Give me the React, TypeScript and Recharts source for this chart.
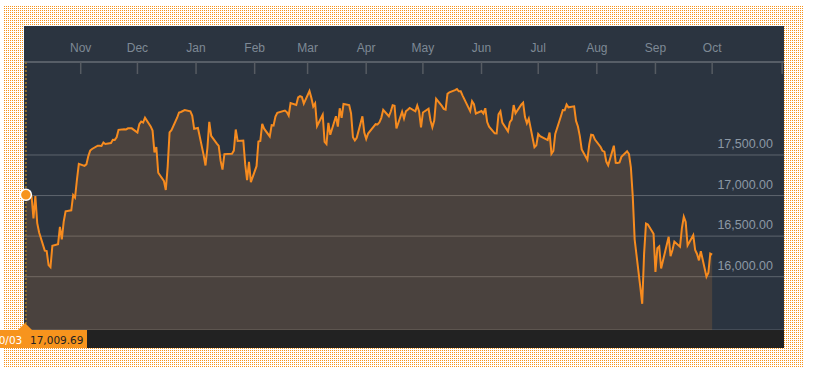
import React from "react";
import { AreaChart, Area, XAxis, YAxis, CartesianGrid, ReferenceLine, ReferenceDot } from "recharts";

// daily closes, Oct 2014 - Oct 2015
const dates = [
  "2014-10-03", "2014-10-06", "2014-10-07", "2014-10-08", "2014-10-09", "2014-10-10", "2014-10-13", "2014-10-14",
  "2014-10-15", "2014-10-16", "2014-10-17", "2014-10-20", "2014-10-21", "2014-10-22", "2014-10-23", "2014-10-24",
  "2014-10-27", "2014-10-28", "2014-10-29", "2014-10-30", "2014-10-31", "2014-11-03", "2014-11-04", "2014-11-05",
  "2014-11-06", "2014-11-07", "2014-11-10", "2014-11-11", "2014-11-12", "2014-11-13", "2014-11-14", "2014-11-17",
  "2014-11-18", "2014-11-19", "2014-11-20", "2014-11-21", "2014-11-24", "2014-11-25", "2014-11-26", "2014-11-28",
  "2014-12-01", "2014-12-02", "2014-12-03", "2014-12-04", "2014-12-05", "2014-12-08", "2014-12-09", "2014-12-10",
  "2014-12-11", "2014-12-12", "2014-12-15", "2014-12-16", "2014-12-17", "2014-12-18", "2014-12-19", "2014-12-22",
  "2014-12-23", "2014-12-24", "2014-12-26", "2014-12-29", "2014-12-30", "2014-12-31", "2015-01-02", "2015-01-05",
  "2015-01-06", "2015-01-07", "2015-01-08", "2015-01-09", "2015-01-12", "2015-01-13", "2015-01-14", "2015-01-15",
  "2015-01-16", "2015-01-20", "2015-01-21", "2015-01-22", "2015-01-23", "2015-01-26", "2015-01-27", "2015-01-28",
  "2015-01-29", "2015-01-30", "2015-02-02", "2015-02-03", "2015-02-04", "2015-02-05", "2015-02-06", "2015-02-09",
  "2015-02-10", "2015-02-11", "2015-02-12", "2015-02-13", "2015-02-17", "2015-02-18", "2015-02-19", "2015-02-20",
  "2015-02-23", "2015-02-24", "2015-02-25", "2015-02-26", "2015-02-27", "2015-03-02", "2015-03-03", "2015-03-04",
  "2015-03-05", "2015-03-06", "2015-03-09", "2015-03-10", "2015-03-11", "2015-03-12", "2015-03-13", "2015-03-16",
  "2015-03-17", "2015-03-18", "2015-03-19", "2015-03-20", "2015-03-23", "2015-03-24", "2015-03-25", "2015-03-26",
  "2015-03-27", "2015-03-30", "2015-03-31", "2015-04-01", "2015-04-02", "2015-04-06", "2015-04-07", "2015-04-08",
  "2015-04-09", "2015-04-10", "2015-04-13", "2015-04-14", "2015-04-15", "2015-04-16", "2015-04-17", "2015-04-20",
  "2015-04-21", "2015-04-22", "2015-04-23", "2015-04-24", "2015-04-27", "2015-04-28", "2015-04-29", "2015-04-30",
  "2015-05-01", "2015-05-04", "2015-05-05", "2015-05-06", "2015-05-07", "2015-05-08", "2015-05-11", "2015-05-12",
  "2015-05-13", "2015-05-14", "2015-05-15", "2015-05-18", "2015-05-19", "2015-05-20", "2015-05-21", "2015-05-22",
  "2015-05-26", "2015-05-27", "2015-05-28", "2015-05-29", "2015-06-01", "2015-06-02", "2015-06-03", "2015-06-04",
  "2015-06-05", "2015-06-08", "2015-06-09", "2015-06-10", "2015-06-11", "2015-06-12", "2015-06-15", "2015-06-16",
  "2015-06-17", "2015-06-18", "2015-06-19", "2015-06-22", "2015-06-23", "2015-06-24", "2015-06-25", "2015-06-26",
  "2015-06-29", "2015-06-30", "2015-07-01", "2015-07-02", "2015-07-06", "2015-07-07", "2015-07-08", "2015-07-09",
  "2015-07-10", "2015-07-13", "2015-07-14", "2015-07-15", "2015-07-16", "2015-07-17", "2015-07-20", "2015-07-21",
  "2015-07-22", "2015-07-23", "2015-07-24", "2015-07-27", "2015-07-28", "2015-07-29", "2015-07-30", "2015-07-31",
  "2015-08-03", "2015-08-04", "2015-08-05", "2015-08-06", "2015-08-07", "2015-08-10", "2015-08-11", "2015-08-12",
  "2015-08-13", "2015-08-14", "2015-08-17", "2015-08-18", "2015-08-19", "2015-08-20", "2015-08-21", "2015-08-24",
  "2015-08-25", "2015-08-26", "2015-08-27", "2015-08-28", "2015-08-31", "2015-09-01", "2015-09-02", "2015-09-03",
  "2015-09-04", "2015-09-08", "2015-09-09", "2015-09-10", "2015-09-11", "2015-09-14", "2015-09-15", "2015-09-16",
  "2015-09-17", "2015-09-18", "2015-09-21", "2015-09-22", "2015-09-23", "2015-09-24", "2015-09-25", "2015-09-28",
  "2015-09-29", "2015-09-30", "2015-10-01",
];

const closes = [
  17009.69, 16992, 16719, 16994, 16659, 16544, 16321, 16315,
  16142, 16117, 16380, 16400, 16615, 16461, 16678, 16805,
  16818, 17006, 16974, 17195, 17391, 17366, 17384, 17485,
  17554, 17574, 17614, 17615, 17612, 17653, 17635, 17648,
  17688, 17686, 17719, 17810, 17818, 17815, 17828, 17828,
  17777, 17880, 17913, 17900, 17959, 17852, 17801, 17533,
  17596, 17281, 17181, 17069, 17357, 17778, 17805, 17959,
  18024, 18030, 18054, 18038, 17983, 17823, 17833, 17501,
  17371, 17585, 17908, 17737, 17640, 17613, 17427, 17320,
  17511, 17515, 17554, 17814, 17673, 17679, 17387, 17191,
  17416, 17165, 17362, 17667, 17674, 17885, 17824, 17729,
  17868, 17863, 17973, 18019, 18047, 18029, 17986, 18140,
  18117, 18209, 18225, 18215, 18133, 18288, 18204, 18097,
  18136, 17857, 17996, 17662, 17635, 17895, 17749, 17977,
  17849, 18076, 17959, 18128, 18116, 18011, 17719, 17679,
  17713, 17976, 17776, 17698, 17764, 17880, 17876, 17903,
  17958, 18057, 17977, 18036, 18113, 18106, 17826, 18034,
  17950, 18038, 18058, 18080, 18038, 18110, 18035, 17841,
  18024, 18070, 17928, 17841, 17925, 18191, 18105, 18069,
  18060, 18253, 18272, 18299, 18312, 18285, 18285, 18232,
  18041, 18163, 18127, 18011, 18041, 18012, 18076, 17906,
  17849, 17767, 17765, 18000, 18039, 17899, 17791, 17905,
  17936, 18115, 18015, 18120, 18144, 17967, 17891, 17947,
  17596, 17620, 17758, 17731, 17684, 17776, 17515, 17549,
  17760, 17977, 18054, 18051, 18121, 18087, 18100, 17920,
  17851, 17732, 17569, 17441, 17631, 17751, 17746, 17690,
  17599, 17551, 17541, 17419, 17373, 17615, 17403, 17402,
  17409, 17477, 17546, 17512, 17349, 16990, 16460, 15871,
  15666, 16285, 16655, 16643, 16528, 16058, 16351, 16374,
  16102, 16492, 16253, 16330, 16433, 16370, 16600, 16739,
  16675, 16385, 16511, 16330, 16280, 16201, 16315, 16001,
  16049, 16285, 16272,
];

const monthTicks = [
  "2014-11-01", "2014-12-01", "2015-01-01", "2015-02-01", "2015-03-01", "2015-04-01",
  "2015-05-01", "2015-06-01", "2015-07-01", "2015-08-01", "2015-09-01", "2015-10-01",
];
const monthLabels = ["Nov", "Dec", "Jan", "Feb", "Mar", "Apr", "May", "Jun", "Jul", "Aug", "Sep", "Oct"];
const priceTicks = [16000, 16500, 17000, 17500];

const hoverDate = "2014-10-03";
const hoverDateLabel = "10/03";
const hoverValue = 17009.69;

const DAY = 86400000;
const startMs = Date.parse(dates[0]);
const dayOf = (d: string) => (Date.parse(d) - startMs) / DAY;

const data = dates.map((d, i) => ({ day: dayOf(d), close: closes[i] }));
const xDomain: [number, number] = [-1, 401];
const xTicks = [...monthTicks.map(dayOf), 400];

const fmt = (v: number) =>
  v.toLocaleString("en-US", { minimumFractionDigits: 2, maximumFractionDigits: 2 });

// 2x2 tile with one orange pixel -> the dotted frame
const dotTile =
  "url(\"data:image/svg+xml;utf8,<svg xmlns='http://www.w3.org/2000/svg' width='2' height='2' shape-rendering='crispEdges'><rect width='1' height='1' fill='%23f7941d'/></svg>\")";

const MonthTick = (props: any) => {
  const { x, y, payload } = props;
  const idx = xTicks.indexOf(payload.value);
  const label = monthLabels[idx] ?? "";
  return (
    <g>
      <text x={x} y={y} textAnchor="middle" fill="#7e8995" fontSize={12} fontFamily="'Liberation Sans', Arial, sans-serif">
        {label}
      </text>
      <line x1={x} x2={x} y1={y + 10} y2={y + 22} stroke="#565b62" strokeWidth={1.5} />
    </g>
  );
};

const PriceTick = (props: any) => {
  const { x, y, payload } = props;
  return (
    <text x={x} y={y} dy={-7} textAnchor="end" fill="#8c98a5" fontSize={12.5} fontFamily="'Liberation Sans', Arial, sans-serif">
      {fmt(payload.value)}
    </text>
  );
};

export default function App() {
  return (
    <div style={{ position: "absolute", left: 0, top: 0, width: 818, height: 376, background: "#fff", overflow: "hidden" }}>
      <div
        style={{
          position: "absolute",
          left: 4,
          top: 6,
          width: 799,
          height: 361,
          backgroundColor: "#fff",
          backgroundImage: dotTile,
          backgroundSize: "2px 2px",
          imageRendering: "pixelated",
        }}
      />
      <div style={{ position: "absolute", left: 24, top: 26, width: 760, height: 322, background: "#2b3440" }} />
      <div style={{ position: "absolute", left: 24, top: 330, width: 760, height: 18, background: "#222222" }} />

      <div style={{ position: "absolute", left: 0, top: 26 }}>
        <AreaChart
          width={784}
          height={304}
          data={data}
          margin={{ top: 0, right: 0, bottom: 0, left: 24 }}
          style={{ overflow: "visible" }}
        >
          <CartesianGrid vertical={false} stroke="rgba(255,255,255,0.24)" />
          <XAxis
            dataKey="day"
            type="number"
            orientation="top"
            domain={xDomain}
            ticks={xTicks}
            interval={0}
            height={36}
            tickSize={0}
            tickMargin={10}
            tickLine={false}
            axisLine={{ stroke: "#6d7278" }}
            tick={<MonthTick />}
          />
          <YAxis
            orientation="right"
            mirror
            domain={[15343, 18646]}
            ticks={priceTicks}
            axisLine={false}
            tickLine={false}
            tickSize={0}
            tickMargin={11}
            tick={<PriceTick />}
          />
          <Area
            type="linear"
            dataKey="close"
            stroke="#f68b1f"
            strokeWidth={2}
            fill="rgb(198,127,54)"
            fillOpacity={0.2}
            dot={false}
            activeDot={false}
            isAnimationActive={false}
          />
          <ReferenceLine x={dayOf(hoverDate)} stroke="#8c6d2c" strokeWidth={2} strokeDasharray="2 2" />
          <ReferenceDot x={dayOf(hoverDate)} y={hoverValue} r={5.5} fill="#f7941d" stroke="#ffffff" strokeWidth={1.5} />
        </AreaChart>
      </div>

      <div
        style={{
          position: "absolute",
          left: 18,
          top: 322.5,
          width: 0,
          height: 0,
          borderLeft: "7px solid transparent",
          borderRight: "7px solid transparent",
          borderBottom: "7.5px solid #f7941d",
        }}
      />
      <div
        style={{
          position: "absolute",
          left: 0,
          top: 330,
          width: 87,
          height: 18,
          background: "#f7941d",
          overflow: "hidden",
          fontFamily: "'DejaVu Sans', Verdana, sans-serif",
          fontSize: 10.5,
          lineHeight: "18px",
          whiteSpace: "nowrap",
        }}
      >
        <span style={{ position: "absolute", left: -8, top: 1, color: "#ffffff" }}>{hoverDateLabel}</span>
        <span style={{ position: "absolute", left: 30, top: 1, color: "#222222" }}>{fmt(hoverValue)}</span>
      </div>
    </div>
  );
}
